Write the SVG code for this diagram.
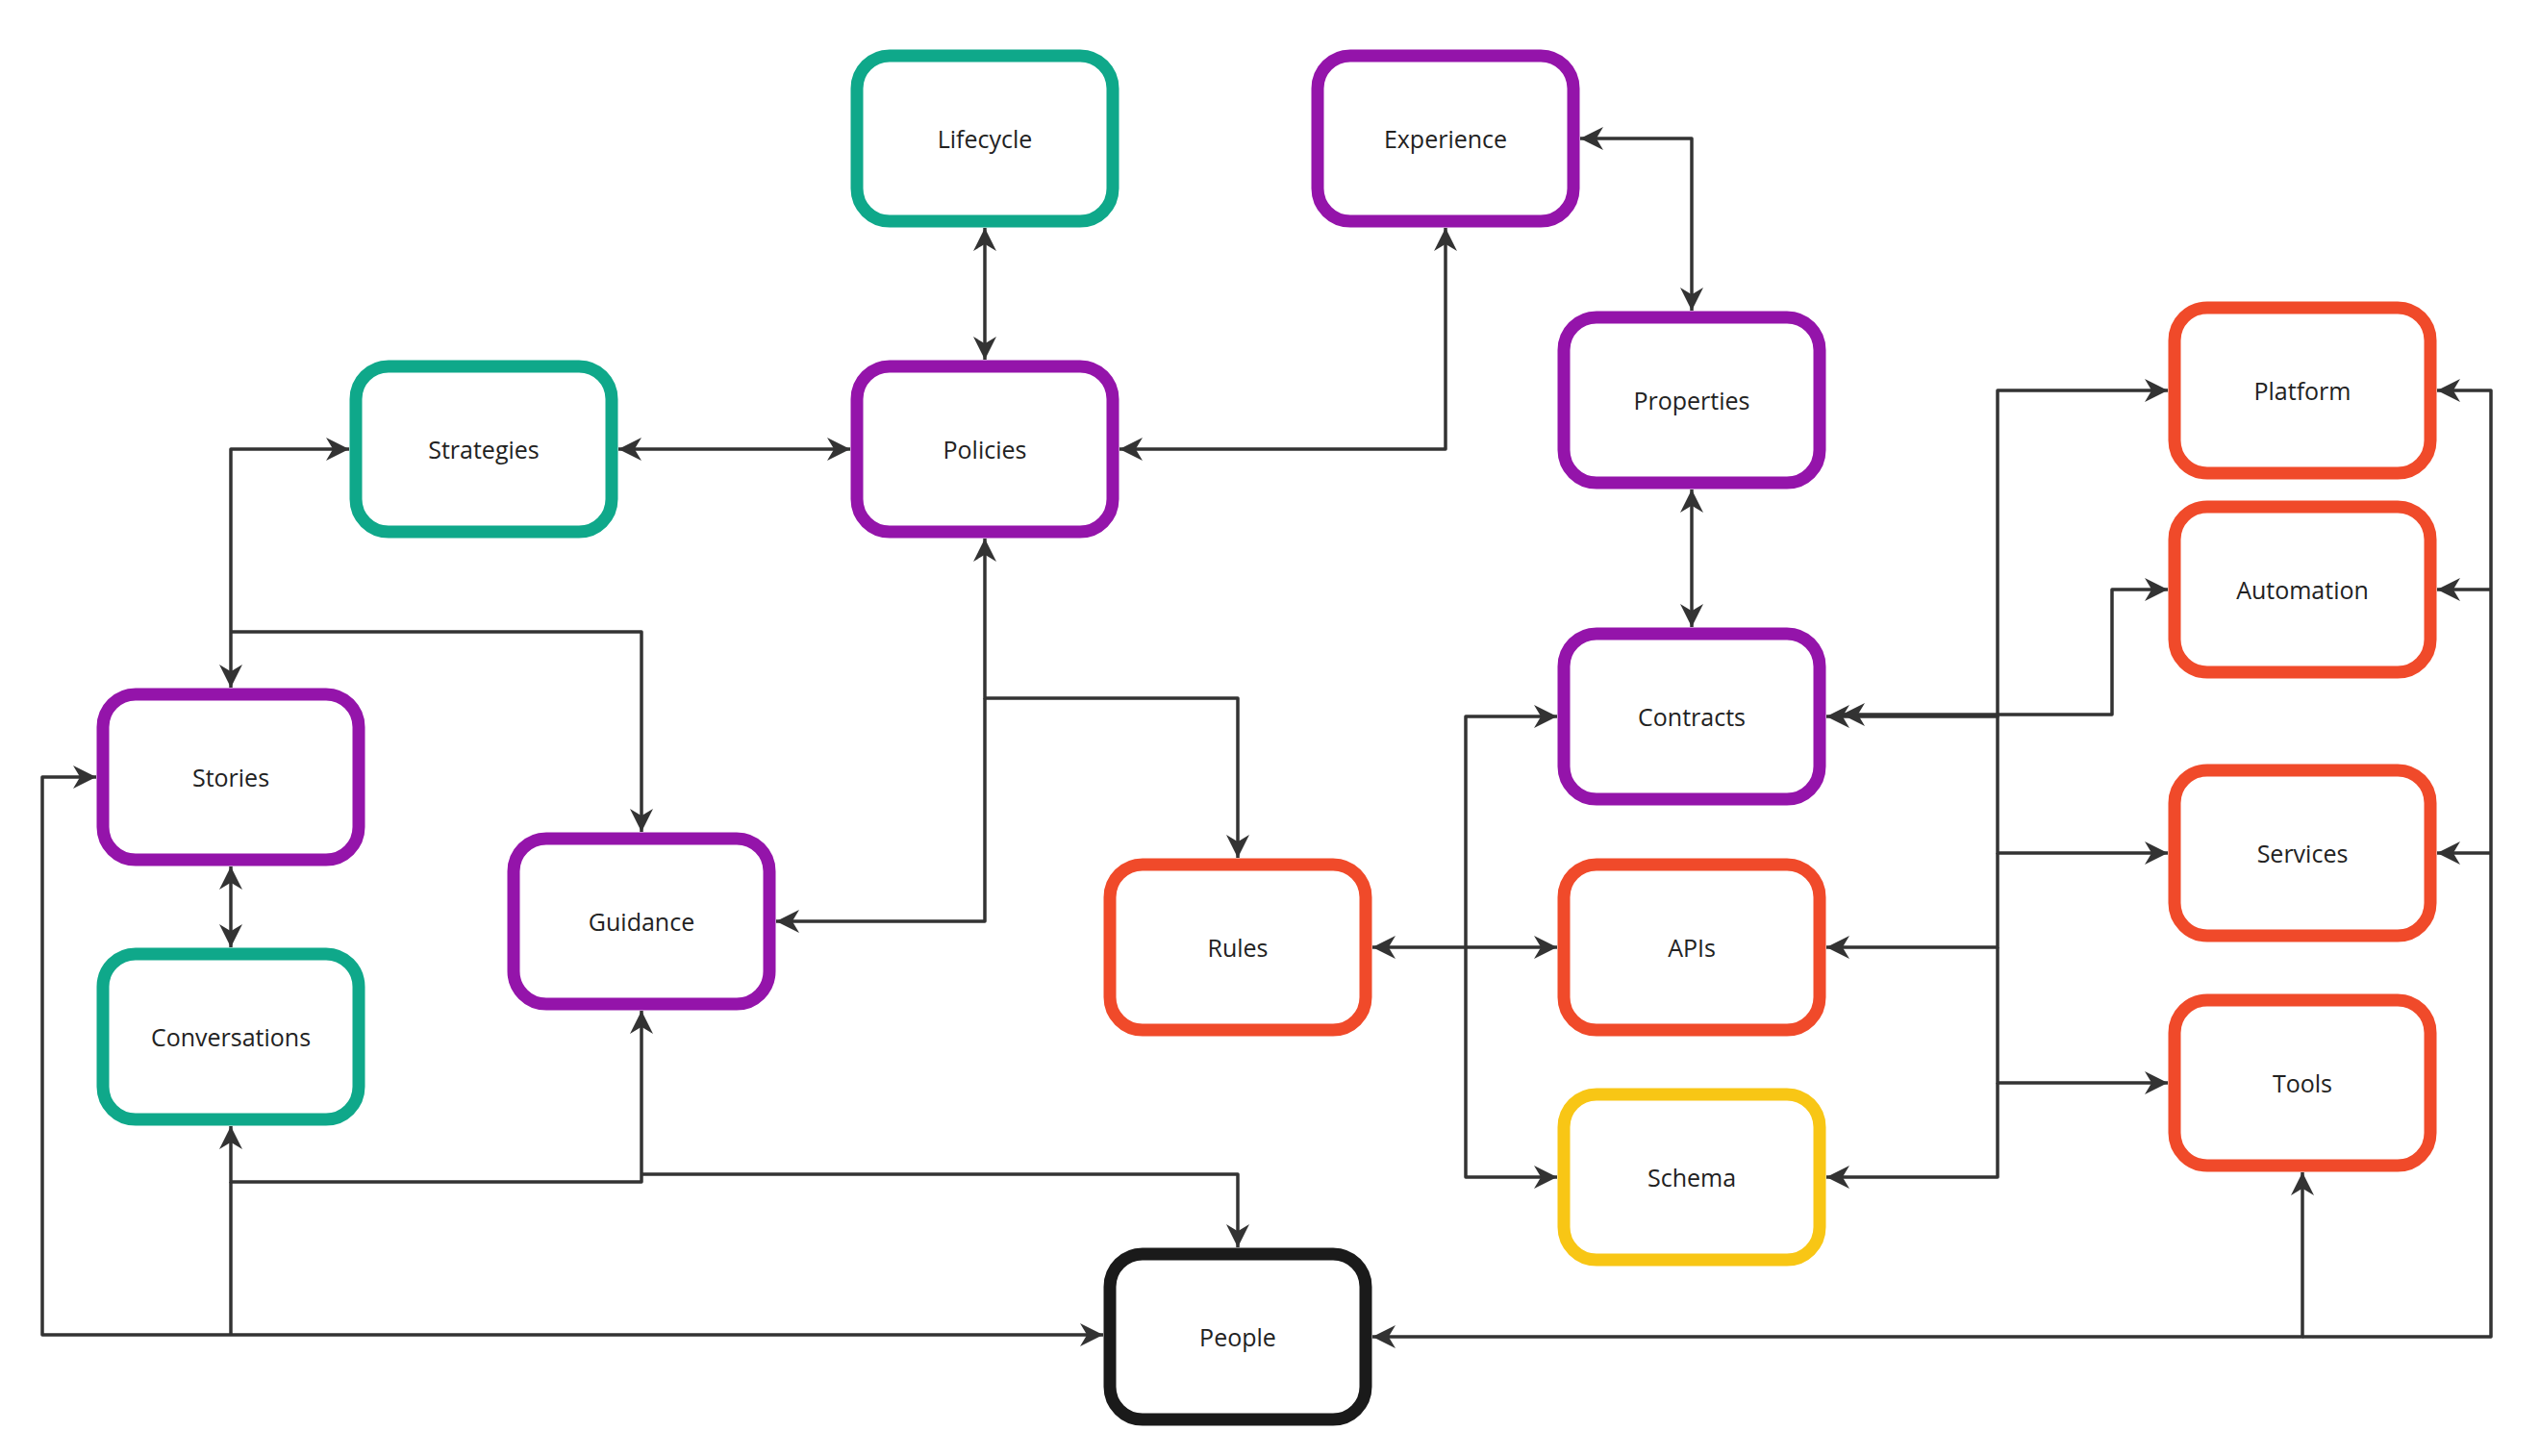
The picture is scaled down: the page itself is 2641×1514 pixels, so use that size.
<svg xmlns="http://www.w3.org/2000/svg" width="2641" height="1514" viewBox="0 0 2641 1514">
<style>
.n rect{fill:#fff;stroke-width:13}
.t{stroke:#0FA88A}.p{stroke:#9414AA}.o{stroke:#F04A2A}.y{stroke:#F8C615}.k{stroke:#1a1a1a}
.n text{font-family:"Open Sans","Noto Sans",sans-serif;font-size:25px;fill:#222;text-anchor:middle;dominant-baseline:central}
#edges path{fill:none;stroke:#333;stroke-width:3.5;stroke-linejoin:round}
</style>
<defs>
<marker id="a" viewBox="0 0 10 10" refX="10" refY="5" markerWidth="24" markerHeight="24" markerUnits="userSpaceOnUse" orient="auto-start-reverse">
<path d="M0,0 L10,5 L0,10 L3,5 z" fill="#333"/>
</marker>
</defs>
<rect width="2641" height="1514" fill="#fff"/>
<g id="edges">
<path d="M1024,237 V374" marker-start="url(#a)" marker-end="url(#a)"/>
<path d="M643,467 H884" marker-start="url(#a)" marker-end="url(#a)"/>
<path d="M1503,237 V467 H1164" marker-start="url(#a)" marker-end="url(#a)"/>
<path d="M1643,144 H1759 V323" marker-start="url(#a)" marker-end="url(#a)"/>
<path d="M1759,509 V652" marker-start="url(#a)" marker-end="url(#a)"/>
<path d="M363,467 H240 V715" marker-start="url(#a)" marker-end="url(#a)"/>
<path d="M240,657 H667 V865" marker-end="url(#a)"/>
<path d="M1024,560 V726 H1287 V892" marker-start="url(#a)" marker-end="url(#a)"/>
<path d="M1024,726 V958 H807" marker-end="url(#a)"/>
<path d="M240,901 V985" marker-start="url(#a)" marker-end="url(#a)"/>
<path d="M667,1051 V1229 H240 V1171" marker-start="url(#a)" marker-end="url(#a)"/>
<path d="M667,1221 H1287 V1297" marker-end="url(#a)"/>
<path d="M100,808 H44 V1388 H1147" marker-start="url(#a)" marker-end="url(#a)"/>
<path d="M240,1229 V1388"/>
<path d="M1427,985 H1524 V745 H1619" marker-start="url(#a)" marker-end="url(#a)"/>
<path d="M1524,985 H1619" marker-end="url(#a)"/>
<path d="M1524,985 V1224 H1619" marker-end="url(#a)"/>
<path d="M1899,745 H2077 V406 H2254" marker-start="url(#a)" marker-end="url(#a)"/>
<path d="M1915,743 H2196 V613 H2254" marker-start="url(#a)" marker-end="url(#a)"/>
<path d="M2077,745 V887 H2254" marker-end="url(#a)"/>
<path d="M2077,887 V985 H1899" marker-end="url(#a)"/>
<path d="M2077,985 V1126 H2254" marker-end="url(#a)"/>
<path d="M2077,1126 V1224 H1899" marker-end="url(#a)"/>
<path d="M1427,1390 H2394 V1219" marker-start="url(#a)" marker-end="url(#a)"/>
<path d="M2394,1390 H2590 V406 H2534" marker-end="url(#a)"/>
<path d="M2590,613 H2534" marker-end="url(#a)"/>
<path d="M2590,887 H2534" marker-end="url(#a)"/>
</g>
<g id="lifecycle" class="n"><rect class="t" x="891" y="58" width="266" height="172" rx="34"/><text x="1024" y="144">Lifecycle</text></g>
<g id="experience" class="n"><rect class="p" x="1370" y="58" width="266" height="172" rx="34"/><text x="1503" y="144">Experience</text></g>
<g id="strategies" class="n"><rect class="t" x="370" y="381" width="266" height="172" rx="34"/><text x="503" y="467">Strategies</text></g>
<g id="policies" class="n"><rect class="p" x="891" y="381" width="266" height="172" rx="34"/><text x="1024" y="467">Policies</text></g>
<g id="properties" class="n"><rect class="p" x="1626" y="330" width="266" height="172" rx="34"/><text x="1759" y="416">Properties</text></g>
<g id="platform" class="n"><rect class="o" x="2261" y="320" width="266" height="172" rx="34"/><text x="2394" y="406">Platform</text></g>
<g id="automation" class="n"><rect class="o" x="2261" y="527" width="266" height="172" rx="34"/><text x="2394" y="613">Automation</text></g>
<g id="stories" class="n"><rect class="p" x="107" y="722" width="266" height="172" rx="34"/><text x="240" y="808">Stories</text></g>
<g id="contracts" class="n"><rect class="p" x="1626" y="659" width="266" height="172" rx="34"/><text x="1759" y="745">Contracts</text></g>
<g id="services" class="n"><rect class="o" x="2261" y="801" width="266" height="172" rx="34"/><text x="2394" y="887">Services</text></g>
<g id="guidance" class="n"><rect class="p" x="534" y="872" width="266" height="172" rx="34"/><text x="667" y="958">Guidance</text></g>
<g id="rules" class="n"><rect class="o" x="1154" y="899" width="266" height="172" rx="34"/><text x="1287" y="985">Rules</text></g>
<g id="apis" class="n"><rect class="o" x="1626" y="899" width="266" height="172" rx="34"/><text x="1759" y="985">APIs</text></g>
<g id="conversations" class="n"><rect class="t" x="107" y="992" width="266" height="172" rx="34"/><text x="240" y="1078">Conversations</text></g>
<g id="tools" class="n"><rect class="o" x="2261" y="1040" width="266" height="172" rx="34"/><text x="2394" y="1126">Tools</text></g>
<g id="schema" class="n"><rect class="y" x="1626" y="1138" width="266" height="172" rx="34"/><text x="1759" y="1224">Schema</text></g>
<g id="people" class="n"><rect class="k" x="1154" y="1304" width="266" height="172" rx="34"/><text x="1287" y="1390">People</text></g>
</svg>
